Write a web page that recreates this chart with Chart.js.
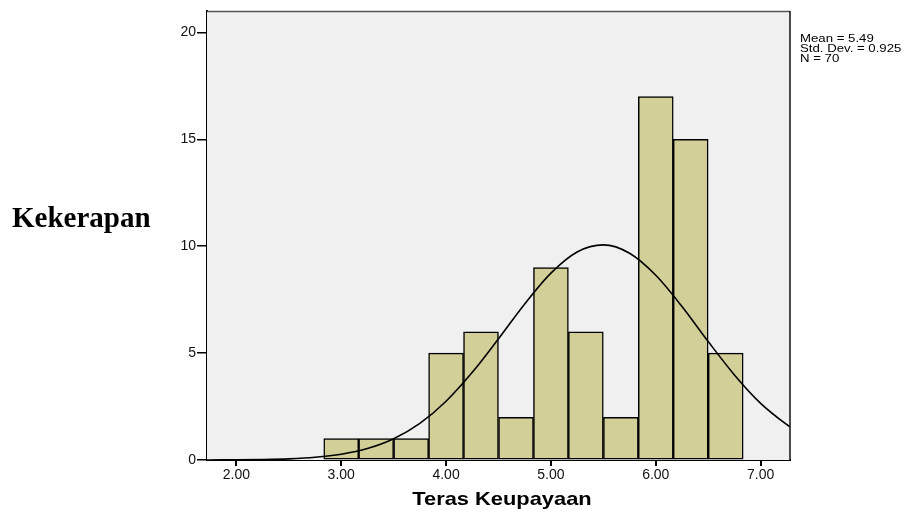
<!DOCTYPE html>
<html>
<head>
<meta charset="utf-8">
<script src="https://cdn.jsdelivr.net/npm/chart.js@4/dist/chart.umd.min.js"></script>
<style>
  html, body { margin: 0; padding: 0; background: #ffffff; }
  #wrap { width: 923px; height: 513px; position: relative; }
</style>
</head>
<body>
<div id="wrap"><canvas id="hist" width="923" height="513"></canvas></div>
<script>
// Histogram bins (bin centres, width 1/3) and their frequencies
const binCenters = [3.0, 3.333, 3.667, 4.0, 4.333, 4.667, 5.0, 5.333, 5.667, 6.0, 6.333, 6.667];
const frequencies = [1, 1, 1, 5, 6, 2, 9, 6, 2, 17, 15, 5];

// Fitted normal curve, sampled along the x axis
const curveX = [1.72, 1.75, 2.0, 2.25, 2.5, 2.75, 3.0, 3.25, 3.5, 3.75, 4.0, 4.25, 4.5, 4.75, 5.0, 5.25, 5.5, 5.75, 6.0, 6.25, 6.5, 6.75, 7.0, 7.25, 7.28];
const curveY = [0.002, 0.003, 0.008, 0.022, 0.054, 0.125, 0.269, 0.536, 0.995, 1.715, 2.75, 4.10, 5.67, 7.30, 8.74, 9.73, 10.06, 9.67, 8.64, 7.18, 5.54, 3.98, 2.65, 1.65, 1.55];

// Summary statistics shown beside the plot
const statLines = ['Mean = 5.49', 'Std. Dev. = 0.925', 'N = 70'];

const xTitle = 'Teras Keupayaan';
const yTitle = 'Kekerapan';

const barData = binCenters.map((x, i) => ({ x: x, y: frequencies[i] }));
const curveData = curveX.map((x, i) => ({ x: x, y: curveY[i] }));

// Plot background, frame and free-standing texts
const decorations = {
  id: 'decorations',
  beforeDatasetsDraw(chart) {
    const { ctx, chartArea: a } = chart;
    ctx.save();
    ctx.fillStyle = '#f0f0f0';
    ctx.fillRect(a.left, a.top, a.right - a.left, a.bottom - a.top);
    ctx.restore();
  },
  afterDraw(chart) {
    const { ctx, chartArea: a } = chart;
    ctx.save();
    // top and right frame lines
    ctx.strokeStyle = '#555555';
    ctx.lineWidth = 1.5;
    ctx.beginPath();
    ctx.moveTo(a.left, a.top + 0.5);
    ctx.lineTo(a.right, a.top + 0.5);
    ctx.stroke();
    ctx.strokeStyle = '#111111';
    ctx.beginPath();
    ctx.moveTo(a.right, a.top);
    ctx.lineTo(a.right, a.bottom);
    ctx.stroke();

    ctx.fillStyle = '#000000';
    ctx.textBaseline = 'alphabetic';

    // y axis title, horizontal at left
    ctx.font = 'bold 29px "Liberation Serif", "Times New Roman", serif';
    ctx.textAlign = 'left';
    ctx.fillText(yTitle, 12, 227);

    // x axis title, slightly widened
    ctx.save();
    ctx.translate(502, 505);
    ctx.scale(1.15, 1);
    ctx.font = 'bold 19px "Liberation Sans", Arial, sans-serif';
    ctx.textAlign = 'center';
    ctx.fillText(xTitle, 0, 0);
    ctx.restore();

    // statistics block, compact and widened
    ctx.save();
    ctx.translate(800, 41.5);
    ctx.scale(1.2, 1);
    ctx.font = '11px "Liberation Sans", Arial, sans-serif';
    ctx.textAlign = 'left';
    statLines.forEach((t, i) => ctx.fillText(t, 0, i * 10.2));
    ctx.restore();
    ctx.restore();
  }
};

new Chart(document.getElementById('hist'), {
  type: 'bar',
  data: {
    datasets: [
      {
        type: 'line',
        data: curveData,
        borderColor: '#000000',
        borderWidth: 1.6,
        pointRadius: 0,
        fill: false,
        cubicInterpolationMode: 'monotone',
        order: 0
      },
      {
        type: 'bar',
        data: barData,
        backgroundColor: '#d3cf98',
        borderColor: '#000000',
        borderWidth: 1.5,
        borderSkipped: false,
        barPercentage: 1.0,
        categoryPercentage: 1.0,
        grouped: false,
        order: 1
      }
    ]
  },
  options: {
    responsive: false,
    animation: false,
    devicePixelRatio: 1,
    layout: { padding: { top: 11, right: 133, left: 0, bottom: 0 } },
    plugins: {
      legend: { display: false },
      tooltip: { enabled: false }
    },
    scales: {
      x: {
        type: 'linear',
        min: 1.72,
        max: 7.28,
        offset: false,
        afterFit(scale) { scale.height = 53; },
        border: { display: true, color: '#000000', width: 2 },
        grid: { drawOnChartArea: false, drawTicks: true, tickLength: 6, color: '#000000', lineWidth: 2, offset: false },
        ticks: {
          stepSize: 1,
          includeBounds: false,
          maxRotation: 0,
          padding: 1,
          color: '#111111',
          font: { family: '"Liberation Sans", Arial, sans-serif', size: 14 },
          callback: (v) => Number(v).toFixed(2)
        }
      },
      y: {
        min: 0,
        max: 21,
        afterFit(scale) { scale.width = 207; },
        border: { display: true, color: '#000000', width: 2 },
        grid: { drawOnChartArea: false, drawTicks: true, tickLength: 10, color: '#000000', lineWidth: 1.5 },
        ticks: {
          stepSize: 5,
          includeBounds: false,
          padding: 1,
          color: '#111111',
          font: { family: '"Liberation Sans", Arial, sans-serif', size: 14 },
          callback: (v) => String(v)
        }
      }
    }
  },
  plugins: [decorations]
});
</script>
</body>
</html>
